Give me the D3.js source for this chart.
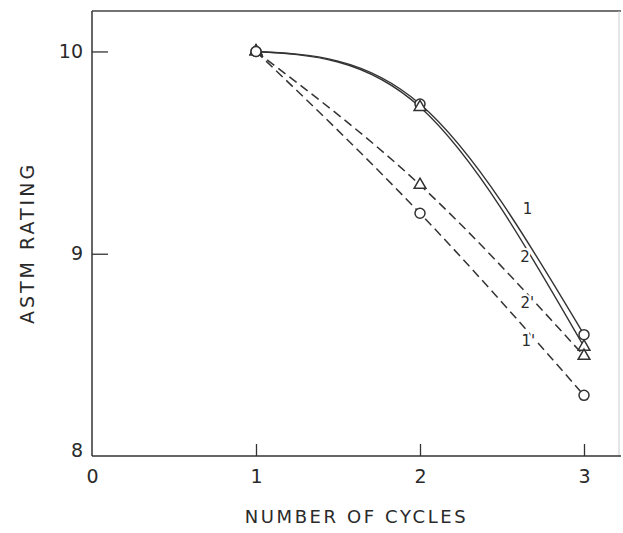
<!DOCTYPE html>
<html>
<head>
<meta charset="utf-8">
<script src="https://cdn.jsdelivr.net/npm/d3@7"></script>
<style>
  body { margin: 0; background: #fff; }
  svg text { font-family: "DejaVu Sans", sans-serif; fill: #2a2a2a; }
</style>
</head>
<body>
<div id="chart"></div>
<script>
const cycles = [1, 2, 3];
const curve1 = [10, 9.74, 8.60];      // solid, circles
const curve2 = [10, 9.725, 8.54];     // solid, triangles
const curve2p = [10, 9.34, 8.495];    // dashed, triangles
const curve1p = [10, 9.20, 8.30];     // dashed, circles
const xTicks = [0, 1, 2, 3];
const yTicks = [8, 9, 10];

const series = [
    {name: '1', values: curve1, dashed: false, marker: 'circle', labelAt: [2.655, 9.22]},
    {name: '2', values: curve2, dashed: false, marker: 'triangle', labelAt: [2.64, 8.985]},
    {name: "2'", values: curve2p, dashed: true, marker: 'triangle', labelAt: [2.655, 8.76]},
    {name: "1'", values: curve1p, dashed: true, marker: 'circle', labelAt: [2.66, 8.57]}
];

const W = 623, H = 533;
const margin = {top: 11, right: 2, bottom: 77, left: 92};
const width = W - margin.left - margin.right;
const height = H - margin.top - margin.bottom;

const svg = d3.select('#chart').append('svg')
    .attr('width', W)
    .attr('height', H)
    .append('g')
    .attr('transform', `translate(${margin.left},${margin.top})`);

const x = d3.scaleLinear().domain([0, width / 164]).range([0, width]);
const y = d3.scaleLinear().domain([8, 10.2]).range([height, 0]);

// frame: top and right
svg.append('line')
    .attr('x1', 0).attr('x2', width).attr('y1', 0).attr('y2', 0)
    .attr('stroke', '#444').attr('stroke-width', 1.5);
svg.append('line')
    .attr('x1', width - 2).attr('x2', width - 2).attr('y1', 0).attr('y2', height)
    .attr('stroke', '#ccc').attr('stroke-width', 1);

const xAxis = svg.append('g')
    .attr('transform', `translate(0,${height})`)
    .call(d3.axisBottom(x).tickValues(xTicks).tickFormat(d3.format('d'))
        .tickSize(-12).tickSizeOuter(0).tickPadding(14));
xAxis.select('.domain').attr('d', `M0,0H${width}`).attr('stroke', '#333').attr('stroke-width', 1.5);
xAxis.selectAll('.tick line').attr('stroke', '#333').attr('stroke-width', 1.3)
    .filter(d => d === 0).remove();
xAxis.selectAll('.tick text').attr('font-size', 19).attr('fill', '#2a2a2a')
    .style('font-family', '"DejaVu Sans", sans-serif');

const yAxis = svg.append('g')
    .call(d3.axisLeft(y).tickValues(yTicks).tickFormat(d3.format('d'))
        .tickSize(-16).tickSizeOuter(0).tickPadding(9));
yAxis.select('.domain').attr('d', `M0,0V${height}`).attr('stroke', '#333').attr('stroke-width', 1.5);
yAxis.selectAll('.tick line').attr('stroke', '#333').attr('stroke-width', 1.3)
    .filter(d => d === 8).remove();
yAxis.selectAll('.tick text').attr('font-size', 19).attr('fill', '#2a2a2a')
    .style('font-family', '"DejaVu Sans", sans-serif');
yAxis.selectAll('.tick').filter(d => d === 8).select('text').attr('dy', '0.0em');

// axis titles
svg.append('text')
    .attr('x', width / 2)
    .attr('y', height + 67)
    .attr('text-anchor', 'middle')
    .attr('font-size', 18)
    .attr('letter-spacing', 2.6)
    .text('NUMBER OF CYCLES');

svg.append('text')
    .attr('transform', 'rotate(-90)')
    .attr('x', -232)
    .attr('y', -58)
    .attr('text-anchor', 'middle')
    .attr('font-size', 19)
    .attr('letter-spacing', 3)
    .text('ASTM RATING');

const line = d3.line()
    .x((d, i) => x(cycles[i]))
    .y(d => y(d))
    .curve(d3.curveNatural);

series.forEach(s => {
    svg.append('path')
        .attr('d', line(s.values))
        .attr('fill', 'none')
        .attr('stroke', '#333')
        .attr('stroke-width', s.dashed ? 1.5 : 1.4)
        .attr('stroke-dasharray', s.dashed ? '9,5' : null);
});

series.forEach(s => {
    s.values.forEach((v, i) => {
        const cx = x(cycles[i]), cy = y(v);
        if (s.marker === 'circle') {
            svg.append('circle')
                .attr('cx', cx).attr('cy', cy).attr('r', 5)
                .attr('fill', '#fff').attr('stroke', '#333').attr('stroke-width', 1.5);
        } else {
            svg.append('path')
                .attr('transform', `translate(${cx},${cy})`)
                .attr('d', d3.symbol(d3.symbolTriangle, 60)())
                .attr('fill', '#fff').attr('stroke', '#333').attr('stroke-width', 1.5);
        }
    });
    svg.append('text')
        .attr('x', x(s.labelAt[0]))
        .attr('y', y(s.labelAt[1]))
        .attr('text-anchor', 'middle')
        .attr('dy', '0.35em')
        .attr('font-size', 15)
        .attr('stroke', '#fff')
        .attr('stroke-width', 4)
        .attr('paint-order', 'stroke')
        .text(s.name);
});
</script>
</body>
</html>
